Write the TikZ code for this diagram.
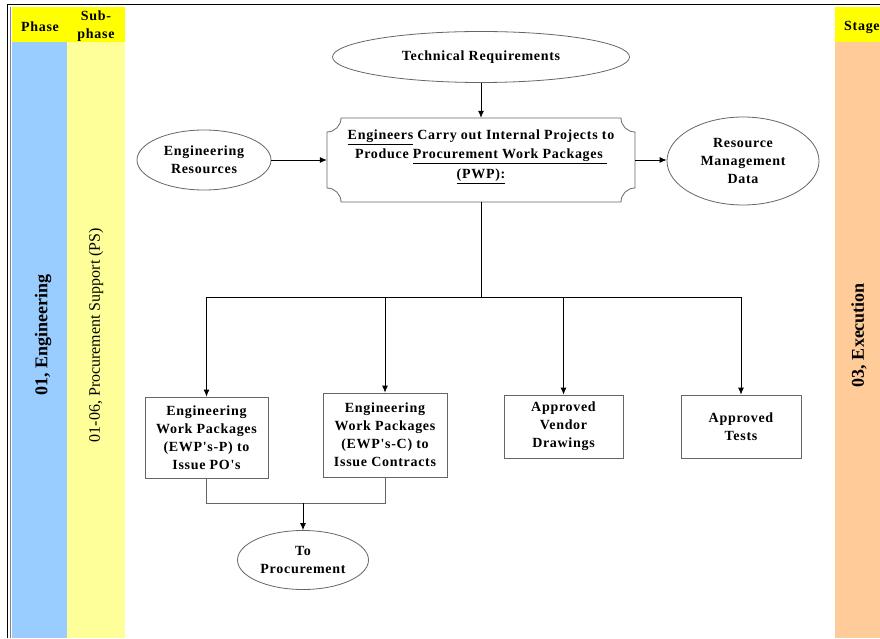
\documentclass[tikz,border=0pt]{standalone}
\usepackage{fontspec}
\setmainfont{Liberation Serif}
\newfontfamily\trk{Liberation Serif}[LetterSpace=5]
\usetikzlibrary{shapes.geometric,arrows.meta}
\definecolor{headyellow}{HTML}{FFFF00}
\definecolor{phaseblue}{HTML}{99CCFF}
\definecolor{subyellow}{HTML}{FFFF99}
\definecolor{stagepeach}{HTML}{FFCC99}
\begin{document}
\begin{tikzpicture}[x=1pt,y=1pt,
  lbl/.style={font=\trk\bfseries\fontsize{14}{18}\selectfont, align=center, text=black, inner sep=0pt},
  oval/.style={ellipse, draw=black!60, line width=0.8pt, inner sep=0pt},
  pbox/.style={rectangle, draw=black!60, line width=0.8pt, inner sep=0pt, lbl},
  plaque/.style={draw=black!60, line width=0.8pt},
  conn/.style={draw=black, line width=0.8pt},
  arr/.style={conn, -{Latex[length=7pt,width=6pt]}},
  feed/.style={draw=black!60, line width=0.8pt},
  vtext/.style={rotate=90, text=black, inner sep=0pt},
]
\useasboundingbox (0,0) rectangle (880,638);
\fill[white] (0,0) rectangle (880,638);

% swimlane columns
\fill[headyellow] (12,596) rectangle (125,631);
\fill[phaseblue] (12,0) rectangle (67,596);
\fill[subyellow] (67,0) rectangle (125,596);
\fill[headyellow] (835,596) rectangle (880,631);
\fill[stagepeach] (835,0) rectangle (880,596);

% outer frame
\draw[black, line width=1pt] (7.5,0) -- (7.5,633) -- (880,633);
\draw[black!50, line width=0.6pt] (10.5,0) -- (10.5,631);

% column headings
\node[lbl] (phasehd) at (40,611) {Phase};
\node[lbl] (subhd) at (96,612) {Sub-\\phase};
\node[lbl, anchor=west] (stagehd) at (844,611) {Stage};

% lane titles
\node[vtext, font=\bfseries\fontsize{18}{20}\selectfont] (phasev) at (43,303) {01, Engineering};
\node[vtext, font=\fontsize{16}{18}\selectfont] (subv) at (96,303) {01-06, Procurement Support (PS)};
\node[vtext, font=\bfseries\fontsize{18}{20}\selectfont] (stagev) at (859,303) {03, Execution};

% inputs and outputs of the main activity
\node[oval, minimum width=297, minimum height=51] (tr) at (481,581) {};
\node[lbl] (tr-t) at (tr.center) {Technical Requirements};

\node[oval, minimum width=134, minimum height=60] (er) at (204,478) {};
\node[lbl] (er-t) at (er.center) {Engineering\\Resources};

\node[oval, minimum width=152, minimum height=88] (rmd) at (743,477) {};
\node[lbl] (rmd-t) at (rmd.center) {Resource\\Management\\Data};

% main activity (plaque outline)
\node[minimum width=308, minimum height=84, inner sep=0pt] (main) at (481,478) {};
\draw[plaque, shift={(main.center)}]
  (-140,42) -- (140,42)
  .. controls (140,34.27) and (146.27,28) .. (154,28) -- (154,-28)
  .. controls (146.27,-28) and (140,-34.27) .. (140,-42) -- (-140,-42)
  .. controls (-140,-34.27) and (-146.27,-28) .. (-154,-28) -- (-154,28)
  .. controls (-146.27,28) and (-140,34.27) .. (-140,42) -- cycle;
\node[lbl, font=\trk\bfseries\fontsize{14}{19.5}\selectfont] (main-t) at ([yshift=3.5pt]main.center)
  {\underline{Engineers} Carry out Internal Projects to\\
   Produce \underline{Procurement Work Packages\ }\\
   \underline{(PWP):}};

% deliverables
\node[pbox, minimum width=123, minimum height=81] (ewpp) at (206.5,200.5)
  {Engineering\\Work Packages\\(EWP's-P) to\\Issue PO's};
\node[pbox, minimum width=124, minimum height=84] (ewpc) at (385,203)
  {Engineering\\Work Packages\\(EWP's-C) to\\Issue Contracts};
\node[pbox, minimum width=119, minimum height=63] (avd) at (563.5,211.5)
  {Approved\\Vendor\\Drawings};
\node[pbox, minimum width=120, minimum height=63] (at) at (741,211.5)
  {Approved\\Tests};

\node[oval, minimum width=131, minimum height=59] (proc) at (303,78) {};
\node[lbl] (proc-t) at (proc.center) {To\\Procurement};

% connectors
\draw[arr] (tr.south) -- (tr.south |- main.north);
\draw[arr] (er.east) -- (er.east -| main.west);
\draw[arr] (main.east) -- (main.east -| rmd.west);

\coordinate (bus) at (481,341);
\draw[conn] (main.south) -- (bus);
\draw[arr] (bus) -| (ewpp.north);
\draw[arr] (bus) -| (ewpc.north);
\draw[arr] (bus) -| (avd.north);
\draw[arr] (bus) -| (at.north);

\coordinate (join) at (303,135);
\draw[feed] (ewpp.south) |- (join);
\draw[feed] (ewpc.south) |- (join);
\draw[arr] (join) -- (proc.north);
\end{tikzpicture}
\end{document}
